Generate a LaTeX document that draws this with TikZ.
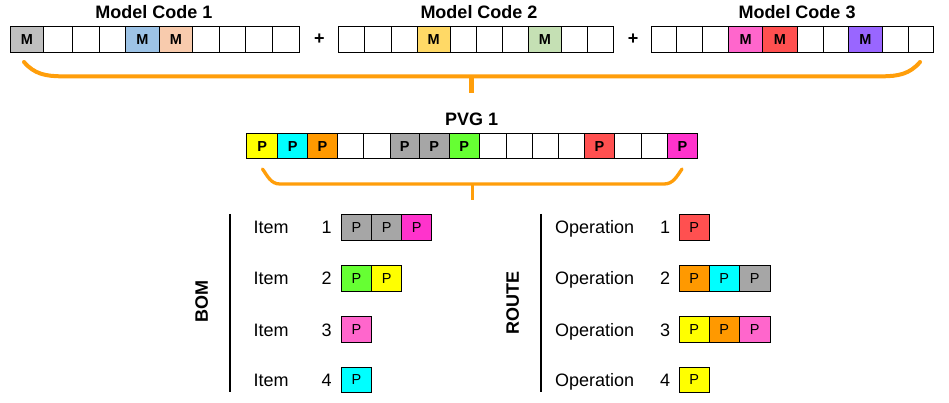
\documentclass[tikz,border=0pt]{standalone}
\usepackage{fontspec}
\setmainfont{Liberation Sans}
\definecolor{mgray}{HTML}{BFBFBF}
\definecolor{mblue}{HTML}{9DC3E6}
\definecolor{mpeach}{HTML}{F8CBAD}
\definecolor{myellow}{HTML}{FFD966}
\definecolor{mgreen}{HTML}{C5E0B4}
\definecolor{mpink}{HTML}{FF66CC}
\definecolor{mred}{HTML}{FF5050}
\definecolor{mpurple}{HTML}{9966FF}
\definecolor{pyellow}{HTML}{FFFF00}
\definecolor{pcyan}{HTML}{00FFFF}
\definecolor{porange}{HTML}{FF9900}
\definecolor{pgray}{HTML}{A6A6A6}
\definecolor{pgreen}{HTML}{66FF33}
\definecolor{pred}{HTML}{FF5050}
\definecolor{pmagenta}{HTML}{FF33CC}
\definecolor{ppink}{HTML}{FF66CC}
\definecolor{braceorange}{HTML}{FF9E0A}
\newcommand\cellrow[5]{%
  \foreach \xa/\xb/\c/\t [count=\i] in {#5} {
    \node[cellbox, #4, fill=\c, minimum width={(\xb-\xa)*1pt},
          minimum height={(#3-#2)*1pt}] (#1-\i) at ({(\xa+\xb)/2},{(#2+#3)/2}) {\t};
  }}
\begin{document}
\begin{tikzpicture}[x=1pt,y=-1pt,
  cellbox/.style={draw=black, line width=1pt, inner sep=0pt, outer sep=0pt},
  boldcell/.style={font=\fontsize{14.5}{16}\selectfont\bfseries},
  plaincell/.style={font=\fontsize{14.5}{16}\selectfont},
  title/.style={font=\fontsize{18}{21}\selectfont\bfseries, anchor=base, inner sep=0pt},
  label/.style={font=\fontsize{18}{21}\selectfont, anchor=base west, inner sep=0pt},
  num/.style={font=\fontsize{18}{21}\selectfont, anchor=base, inner sep=0pt},
  side/.style={font=\fontsize{18}{21}\selectfont\bfseries, rotate=90, inner sep=0pt},
  brace/.style={draw=braceorange, line cap=round},
  divider/.style={draw=black, line width=2pt}]
\useasboundingbox[fill=white] (0,0) rectangle (949,403);

% titles
\node[title] (t1) at (154,18.4) {Model Code 1};
\node[title] (t2) at (479,18.4) {Model Code 2};
\node[title] (t3) at (797,18.4) {Model Code 3};
\node[title] (tp) at (471.7,125.7) {PVG 1};
\node[font=\fontsize{18}{21}\selectfont\bfseries, inner sep=0pt] (plus1) at (319.5,39) {+};
\node[font=\fontsize{18}{21}\selectfont\bfseries, inner sep=0pt] (plus2) at (633,39) {+};

% model codes
\cellrow{mc1}{26.7}{52.3}{boldcell}{10.7/43.3/mgray/M, 43.3/72.3/white/{}, 72.3/99.3/white/{}, 99.3/125.7/white/{}, 125.7/159.3/mblue/M, 159.3/192.3/mpeach/M, 192.3/219.3/white/{}, 219.3/245.7/white/{}, 245.7/272.7/white/{}, 272.7/299/white/{}}
\cellrow{mc2}{26.7}{52.3}{boldcell}{338.3/364.3/white/{}, 364.3/391/white/{}, 391/417.3/white/{}, 417.3/450/myellow/M, 450/476/white/{}, 476/502.7/white/{}, 502.7/528.7/white/{}, 528.7/561/mgreen/M, 561/587.3/white/{}, 587.3/613.3/white/{}}
\cellrow{mc3}{26.7}{52.3}{boldcell}{651.7/676.7/white/{}, 676.7/702.7/white/{}, 702.7/728.7/white/{}, 728.7/762.7/mpink/M, 762.7/797.3/mred/M, 797.3/823.3/white/{}, 823.3/848.7/white/{}, 848.7/882.3/mpurple/M, 882.3/908.3/white/{}, 908.3/933.3/white/{}}

% top brace
\coordinate (b1l) at (24,62);
\coordinate (b1a) at (62,76.3);
\coordinate (b1b) at (882,76.3);
\coordinate (b1r) at (920,62);
\coordinate (b1m) at (471.5,76.3);
\coordinate (b1t) at (471.5,93);
\draw[brace, line width=4pt] (b1l) to[out=-50,in=180] (b1a) -- (b1b) to[out=0,in=-130] (b1r);
\draw[brace, line width=5pt, line cap=butt] (b1m) -- (b1t);

% PVG
\cellrow{pvg}{133.3}{159}{boldcell}{246.7/277.7/pyellow/P, 277.7/307.7/pcyan/P, 307.7/337.3/porange/P, 337.3/363.3/white/{}, 363.3/390/white/{}, 390/419.3/pgray/P, 419.3/449.3/pgray/P, 449.3/479.3/pgreen/P, 479.3/506/white/{}, 506/532.7/white/{}, 532.7/558.7/white/{}, 558.7/584.7/white/{}, 584.7/614.3/pred/P, 614.3/641/white/{}, 641/667.7/white/{}, 667.7/697.3/pmagenta/P}

% PVG brace
\coordinate (b2l) at (262.5,169);
\coordinate (b2a) at (280,184);
\coordinate (b2b) at (664,184);
\coordinate (b2r) at (682,169);
\coordinate (b2m) at (472.3,184);
\coordinate (b2t) at (472.3,200);
\draw[brace, line width=3.3pt] (b2l) to[out=-55,in=180] (b2a) -- (b2b) to[out=0,in=-125] (b2r);
\draw[brace, line width=3.3pt, line cap=butt] (b2m) -- (b2t);

% BOM
\node[side] (bom) at (201.7,301.5) {BOM};
\coordinate (d1a) at (230,214);
\coordinate (d1b) at (230,391.7);
\draw[divider] (d1a) -- (d1b);
\node[label] (it1) at (253.3,233.5) {Item};
\node[label] (it2) at (253.3,284.5) {Item};
\node[label] (it3) at (253.3,336) {Item};
\node[label] (it4) at (253.3,386.5) {Item};
\node[num] (in1) at (326.7,233.5) {1};
\node[num] (in2) at (326.7,284.5) {2};
\node[num] (in3) at (326.7,336) {3};
\node[num] (in4) at (326.7,386.5) {4};
\cellrow{i1}{214.3}{240}{plaincell}{341.3/371.7/pgray/P, 371.7/401.7/pgray/P, 401.7/431.7/pmagenta/P}
\cellrow{i2}{265.3}{291}{plaincell}{341.3/371.7/pgreen/P, 371.7/401.7/pyellow/P}
\cellrow{i3}{316.7}{342.3}{plaincell}{341.3/371.7/ppink/P}
\cellrow{i4}{367.3}{392.7}{plaincell}{341.3/371.7/pcyan/P}

% ROUTE
\node[side] (route) at (512.7,303) {ROUTE};
\coordinate (d2a) at (540.7,214);
\coordinate (d2b) at (540.7,391.7);
\draw[divider] (d2a) -- (d2b);
\node[label] (op1) at (555,233.5) {Operation};
\node[label] (op2) at (555,284.5) {Operation};
\node[label] (op3) at (555,336) {Operation};
\node[label] (op4) at (555,386.5) {Operation};
\node[num] (on1) at (665,233.5) {1};
\node[num] (on2) at (665,284.5) {2};
\node[num] (on3) at (665,336) {3};
\node[num] (on4) at (665,386.5) {4};
\cellrow{o1}{214.3}{240}{plaincell}{679.3/709.3/pred/P}
\cellrow{o2}{265.3}{291}{plaincell}{679.3/709.3/porange/P, 709.3/739.3/pcyan/P, 739.3/770/pgray/P}
\cellrow{o3}{316.7}{342.3}{plaincell}{679.3/709.3/pyellow/P, 709.3/739.3/porange/P, 739.3/770/ppink/P}
\cellrow{o4}{367.3}{392.7}{plaincell}{679.3/709.3/pyellow/P}
\end{tikzpicture}
\end{document}
